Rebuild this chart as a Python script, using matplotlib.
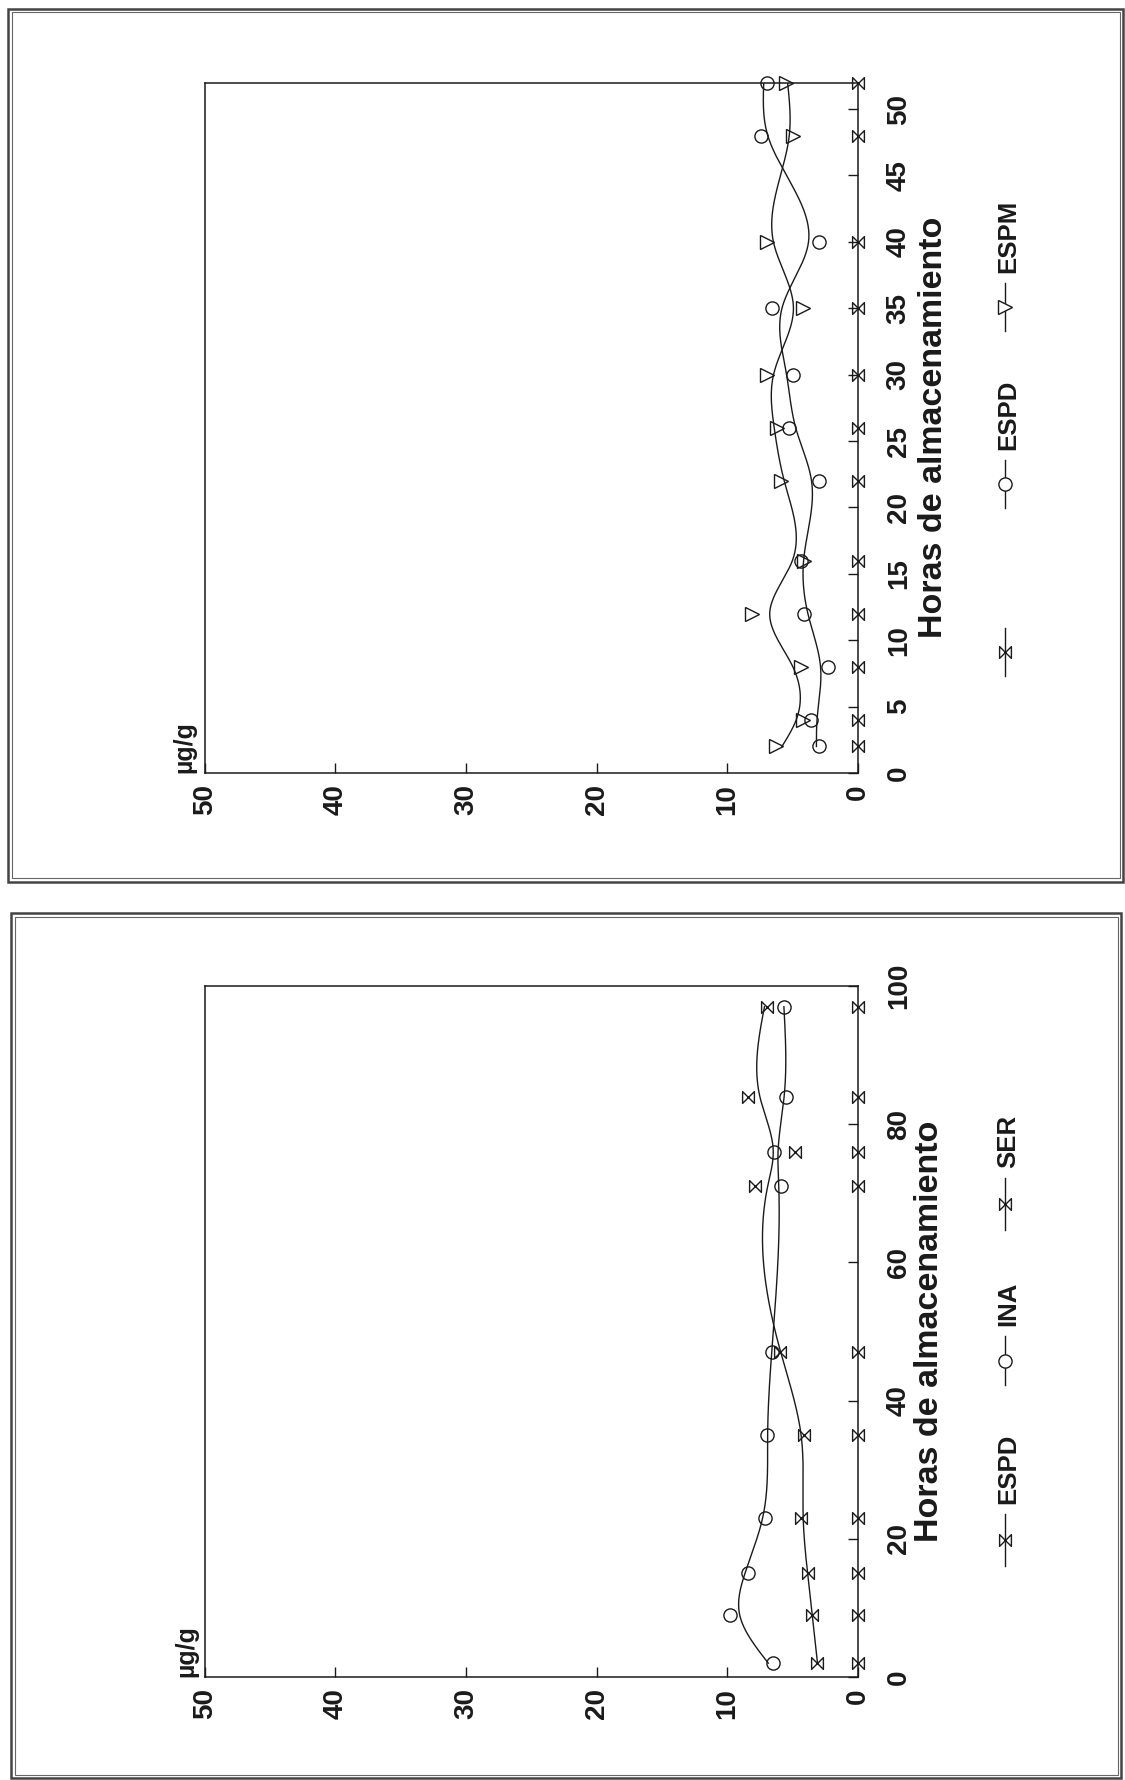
import numpy as np
import matplotlib
matplotlib.use("Agg")
import matplotlib.pyplot as plt
from matplotlib.path import Path
from matplotlib.lines import Line2D
from matplotlib.patches import Rectangle

# ---------------- data ----------------
top_hours = [2, 4, 8, 12, 16, 22, 26, 30, 35, 40, 48, 52]
top_ser = [0, 0, 0, 0, 0, 0, 0, 0, 0, 0, 0, 0]
top_espd = [3.0, 3.6, 2.3, 4.1, 4.4, 3.0, 5.3, 5.0, 6.6, 3.0, 7.4, 7.0]
top_espm = [6.3, 4.2, 4.4, 8.1, 4.1, 5.9, 6.2, 7.0, 4.2, 7.0, 5.0, 5.5]

bot_hours = [2, 9, 15, 23, 35, 47, 71, 76, 84, 97]
bot_espd = [3.1, 3.5, 3.8, 4.4, 4.1, 6.0, 7.9, 4.8, 8.4, 7.0]
bot_ina = [6.5, 9.8, 8.4, 7.1, 7.0, 6.6, 5.9, 6.4, 5.5, 5.7]
bot_ser = [0, 0, 0, 0, 0, 0, 0, 0, 0, 0]

value_ticks = [0, 10, 20, 30, 40, 50]
top_hour_ticks = [0, 5, 10, 15, 20, 25, 30, 35, 40, 45, 50]
bot_hour_ticks = [0, 20, 40, 60, 80, 100]

xlabel = "Horas de almacenamiento"
unit = "µg/g"
top_legend = ["", "ESPD", "ESPM"]
bot_legend = ["ESPD", "INA", "SER"]

# ---------------- helpers ----------------
W, H = 1125, 1780
FONT = "Liberation Sans"
INK = "#1a1a1a"

bowtie = Path([(-1, -1), (-1, 1), (1, -1), (1, 1), (-1, -1)],
              [Path.MOVETO, Path.LINETO, Path.LINETO, Path.LINETO, Path.CLOSEPOLY])


def fx(x):
    return x / W


def fy(y):
    return 1 - y / H


def smooth(x, y, lam, step=0.1):
    x = np.asarray(x, float)
    y = np.asarray(y, float)
    grid = np.arange(x.min(), x.max() + step / 2, step)
    n = len(grid)
    idx = np.round((x - grid[0]) / step).astype(int)
    w = np.zeros(n)
    b = np.zeros(n)
    np.add.at(w, idx, 1.0)
    np.add.at(b, idx, y)
    D = np.diff(np.eye(n), 2, axis=0)
    A = np.diag(w) + (lam / step ** 3) * (D.T @ D)
    return grid, np.linalg.solve(A, b)


fig = plt.figure(figsize=(W / 100, H / 100), dpi=100)
fig.patch.set_facecolor("white")

# page frames (double lines)
for (l, t, r, b) in [(8, 9, 1123, 882), (11, 913, 1121, 1778)]:
    fig.add_artist(Rectangle((fx(l), fy(b)), fx(r - l), (b - t) / H, fill=False,
                             lw=1.8, ec="#444444", transform=fig.transFigure))
    fig.add_artist(Rectangle((fx(l + 3.5), fy(b - 3.5)), fx(r - l - 7), (b - t - 7) / H,
                             fill=False, lw=0.8, ec="#666666", transform=fig.transFigure))


def make_axes(top, bottom, hmax, hticks):
    left, right = 204.7, 858.0
    ax = fig.add_axes([fx(left), fy(bottom), fx(right - left), (bottom - top) / H])
    ax.set_xlim(50, 0)
    ax.set_ylim(0, hmax)
    ax.set_xticks(value_ticks)
    ax.set_yticks(hticks)
    ax.yaxis.tick_right()
    ax.tick_params(axis="x", direction="in", length=7, width=1.0, pad=8,
                   labelrotation=90, labelsize=20, colors=INK)
    ax.tick_params(axis="y", direction="in", length=7, width=1.0, pad=20,
                   labelrotation=90, labelsize=20, colors=INK, right=True, left=False)
    for lab in ax.get_xticklabels() + ax.get_yticklabels():
        lab.set_fontfamily(FONT)
        lab.set_fontweight("bold")
    for lab in ax.get_yticklabels():
        lab.set_verticalalignment("center")
    for s in ax.spines.values():
        s.set_linewidth(1.1)
        s.set_color(INK)
    return ax


ax1 = make_axes(82.5, 773.0, 52, top_hour_ticks)
ax2 = make_axes(986.0, 1677.0, 100, bot_hour_ticks)

mk = dict(markerfacecolor="none", markeredgecolor=INK, markeredgewidth=1.0, clip_on=False)

# top panel
ax1.plot(top_ser, top_hours, ls="none", marker=bowtie, ms=8.5, zorder=5, **mk)
ax1.plot(top_espd, top_hours, ls="none", marker="o", ms=9.5, zorder=5, **mk)
ax1.plot(top_espm, top_hours, ls="none", marker=">", ms=9.5, zorder=5, **mk)
g, z = smooth(top_hours, top_espd, 5)
ax1.plot(z, g, color=INK, lw=1.0)
g, z = smooth(top_hours, top_espm, 4)
ax1.plot(z, g, color=INK, lw=1.0)

# bottom panel
ax2.plot(bot_ser, bot_hours, ls="none", marker=bowtie, ms=8.5, zorder=5, **mk)
ax2.plot(bot_espd, bot_hours, ls="none", marker=bowtie, ms=8.5, zorder=5, **mk)
ax2.plot(bot_ina, bot_hours, ls="none", marker="o", ms=9.5, zorder=5, **mk)
g, z = smooth(bot_hours, bot_espd, 60)
ax2.plot(z, g, color=INK, lw=1.0)
g, z = smooth(bot_hours, bot_ina, 30)
ax2.plot(z, g, color=INK, lw=1.0)

# axis titles and units
txt = dict(rotation=90, color=INK, family=FONT, fontweight="bold")
fig.text(fx(933), fy(427.8), xlabel, ha="center", va="center", fontsize=24.5, **txt)
fig.text(fx(930), fy(1331.5), xlabel, ha="center", va="center", fontsize=24.5, **txt)
fig.text(fx(184), fy(773), unit, ha="center", va="bottom", fontsize=18, **txt)
fig.text(fx(186), fy(1677), unit, ha="center", va="bottom", fontsize=18, **txt)


# legends (drawn rotated like the rest of the page)
def legend_item(x, y0, y1, marker, ms, label):
    fig.add_artist(Line2D([fx(x), fx(x)], [fy(y1), fy(y0)], color=INK, lw=1.0,
                          transform=fig.transFigure))
    fig.add_artist(Line2D([fx(x)], [fy((y0 + y1) / 2)], marker=marker, ms=ms,
                          markerfacecolor="white", markeredgecolor=INK, markeredgewidth=1.0,
                          transform=fig.transFigure))
    if label:
        fig.text(fx(x + 3), fy(y0 - 10), label, ha="center", va="bottom", fontsize=18.5, **txt)


legend_item(1005, 628, 676, bowtie, 8.5, top_legend[0])
legend_item(1005, 460, 508, "o", 9.5, top_legend[1])
legend_item(1005, 283, 331, ">", 9.5, top_legend[2])

legend_item(1005, 1514, 1566, bowtie, 8.5, bot_legend[0])
legend_item(1005, 1336, 1385, "o", 9.5, bot_legend[1])
legend_item(1005, 1178, 1230, bowtie, 8.5, bot_legend[2])

fig.savefig("out.png", dpi=100, facecolor="white")
